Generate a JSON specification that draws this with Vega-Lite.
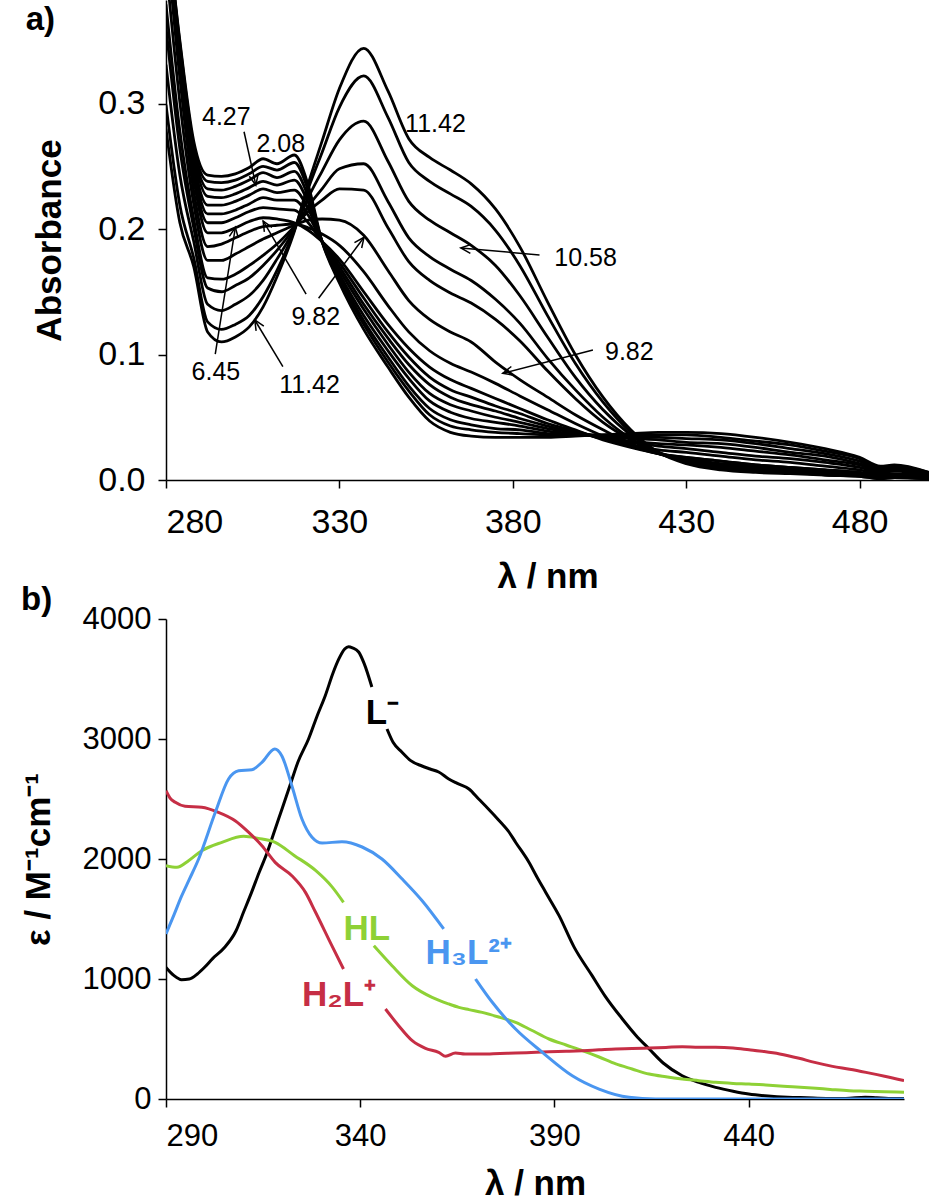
{
"$schema":"https://vega.github.io/schema/vega-lite/v6.json",
"background":"white",
"padding":{"left":21,"top":0,"right":0,"bottom":0},
"bounds":"flush",
"spacing":139,
"config":{"view":{"stroke":null},"font":"Liberation Sans",
"axis":{"domainColor":"black","tickColor":"black","labelColor":"black","titleColor":"black","grid":false,"domainWidth":1.5,"tickWidth":1.5,"tickSize":8,"labelFontSize":34,"titleFontSize":35,"titleFontWeight":"bold","labelFont":"Liberation Sans","titleFont":"Liberation Sans","labelPadding":12,"titlePadding":14}},
"vconcat":[
{"width":763,"height":480,
"title":{"text":"a)","anchor":"start","frame":"bounds","offset":-37,"dx":-7,"fontSize":33,"fontWeight":"bold","font":"Liberation Sans","color":"black"},
"layer":[
{"data":{"values":[
{"k":1,"w":280,"v":0.45},{"k":1,"w":284,"v":0.35},{"k":1,"w":288,"v":0.27},{"k":1,"w":292,"v":0.243},{"k":1,"w":296,"v":0.242},{"k":1,"w":300,"v":0.244},{"k":1,"w":304,"v":0.249},{"k":1,"w":308,"v":0.256},{"k":1,"w":312,"v":0.252},{"k":1,"w":317,"v":0.259},{"k":1,"w":321,"v":0.235},{"k":1,"w":325,"v":0.19},{"k":1,"w":330,"v":0.157},{"k":1,"w":337,"v":0.12},{"k":1,"w":344,"v":0.09},{"k":1,"w":350,"v":0.066},{"k":1,"w":356,"v":0.047},{"k":1,"w":362,"v":0.038},{"k":1,"w":368,"v":0.035},{"k":1,"w":375,"v":0.034},{"k":1,"w":382,"v":0.034},{"k":1,"w":390,"v":0.034},{"k":1,"w":398,"v":0.035},{"k":1,"w":406,"v":0.036},{"k":1,"w":414,"v":0.037},{"k":1,"w":422,"v":0.038},{"k":1,"w":430,"v":0.038},{"k":1,"w":440,"v":0.037},{"k":1,"w":450,"v":0.034},{"k":1,"w":460,"v":0.03},{"k":1,"w":470,"v":0.025},{"k":1,"w":480,"v":0.018},{"k":1,"w":486,"v":0.011},{"k":1,"w":490,"v":0.012},{"k":1,"w":500,"v":0.006},
{"k":2,"w":280,"v":0.45},{"k":2,"w":284,"v":0.348},{"k":2,"w":288,"v":0.266},{"k":2,"w":292,"v":0.238},{"k":2,"w":296,"v":0.237},{"k":2,"w":300,"v":0.239},{"k":2,"w":304,"v":0.244},{"k":2,"w":308,"v":0.25},{"k":2,"w":312,"v":0.247},{"k":2,"w":317,"v":0.253},{"k":2,"w":321,"v":0.231},{"k":2,"w":325,"v":0.19},{"k":2,"w":330,"v":0.159},{"k":2,"w":337,"v":0.124},{"k":2,"w":344,"v":0.094},{"k":2,"w":350,"v":0.071},{"k":2,"w":356,"v":0.052},{"k":2,"w":362,"v":0.043},{"k":2,"w":368,"v":0.04},{"k":2,"w":375,"v":0.038},{"k":2,"w":382,"v":0.037},{"k":2,"w":390,"v":0.036},{"k":2,"w":398,"v":0.036},{"k":2,"w":406,"v":0.036},{"k":2,"w":414,"v":0.036},{"k":2,"w":422,"v":0.036},{"k":2,"w":430,"v":0.036},{"k":2,"w":440,"v":0.034},{"k":2,"w":450,"v":0.031},{"k":2,"w":460,"v":0.028},{"k":2,"w":470,"v":0.023},{"k":2,"w":480,"v":0.017},{"k":2,"w":486,"v":0.01},{"k":2,"w":490,"v":0.011},{"k":2,"w":500,"v":0.006},
{"k":3,"w":280,"v":0.45},{"k":3,"w":284,"v":0.345},{"k":3,"w":288,"v":0.263},{"k":3,"w":292,"v":0.232},{"k":3,"w":296,"v":0.231},{"k":3,"w":300,"v":0.234},{"k":3,"w":304,"v":0.239},{"k":3,"w":308,"v":0.245},{"k":3,"w":312,"v":0.241},{"k":3,"w":317,"v":0.246},{"k":3,"w":321,"v":0.226},{"k":3,"w":325,"v":0.19},{"k":3,"w":330,"v":0.162},{"k":3,"w":337,"v":0.127},{"k":3,"w":344,"v":0.098},{"k":3,"w":350,"v":0.075},{"k":3,"w":356,"v":0.057},{"k":3,"w":362,"v":0.048},{"k":3,"w":368,"v":0.044},{"k":3,"w":375,"v":0.041},{"k":3,"w":382,"v":0.04},{"k":3,"w":390,"v":0.037},{"k":3,"w":398,"v":0.036},{"k":3,"w":406,"v":0.035},{"k":3,"w":414,"v":0.034},{"k":3,"w":422,"v":0.034},{"k":3,"w":430,"v":0.033},{"k":3,"w":440,"v":0.032},{"k":3,"w":450,"v":0.029},{"k":3,"w":460,"v":0.025},{"k":3,"w":470,"v":0.021},{"k":3,"w":480,"v":0.015},{"k":3,"w":486,"v":0.009},{"k":3,"w":490,"v":0.01},{"k":3,"w":500,"v":0.005},
{"k":4,"w":280,"v":0.45},{"k":4,"w":284,"v":0.342},{"k":4,"w":288,"v":0.259},{"k":4,"w":292,"v":0.226},{"k":4,"w":296,"v":0.225},{"k":4,"w":300,"v":0.228},{"k":4,"w":304,"v":0.233},{"k":4,"w":308,"v":0.238},{"k":4,"w":312,"v":0.235},{"k":4,"w":317,"v":0.239},{"k":4,"w":321,"v":0.221},{"k":4,"w":325,"v":0.19},{"k":4,"w":330,"v":0.164},{"k":4,"w":337,"v":0.131},{"k":4,"w":344,"v":0.103},{"k":4,"w":350,"v":0.081},{"k":4,"w":356,"v":0.063},{"k":4,"w":362,"v":0.054},{"k":4,"w":368,"v":0.049},{"k":4,"w":375,"v":0.046},{"k":4,"w":382,"v":0.043},{"k":4,"w":390,"v":0.039},{"k":4,"w":398,"v":0.037},{"k":4,"w":406,"v":0.035},{"k":4,"w":414,"v":0.033},{"k":4,"w":422,"v":0.032},{"k":4,"w":430,"v":0.03},{"k":4,"w":440,"v":0.029},{"k":4,"w":450,"v":0.026},{"k":4,"w":460,"v":0.022},{"k":4,"w":470,"v":0.019},{"k":4,"w":480,"v":0.013},{"k":4,"w":486,"v":0.008},{"k":4,"w":490,"v":0.009},{"k":4,"w":500,"v":0.005},
{"k":5,"w":280,"v":0.45},{"k":5,"w":284,"v":0.34},{"k":5,"w":288,"v":0.254},{"k":5,"w":292,"v":0.219},{"k":5,"w":296,"v":0.219},{"k":5,"w":300,"v":0.222},{"k":5,"w":304,"v":0.227},{"k":5,"w":308,"v":0.232},{"k":5,"w":312,"v":0.229},{"k":5,"w":317,"v":0.231},{"k":5,"w":321,"v":0.216},{"k":5,"w":325,"v":0.19},{"k":5,"w":330,"v":0.167},{"k":5,"w":337,"v":0.136},{"k":5,"w":344,"v":0.108},{"k":5,"w":350,"v":0.086},{"k":5,"w":356,"v":0.069},{"k":5,"w":362,"v":0.06},{"k":5,"w":368,"v":0.055},{"k":5,"w":375,"v":0.05},{"k":5,"w":382,"v":0.046},{"k":5,"w":390,"v":0.041},{"k":5,"w":398,"v":0.038},{"k":5,"w":406,"v":0.034},{"k":5,"w":414,"v":0.031},{"k":5,"w":422,"v":0.029},{"k":5,"w":430,"v":0.028},{"k":5,"w":440,"v":0.026},{"k":5,"w":450,"v":0.023},{"k":5,"w":460,"v":0.02},{"k":5,"w":470,"v":0.016},{"k":5,"w":480,"v":0.012},{"k":5,"w":486,"v":0.007},{"k":5,"w":490,"v":0.008},{"k":5,"w":500,"v":0.004},
{"k":6,"w":280,"v":0.45},{"k":6,"w":284,"v":0.337},{"k":6,"w":288,"v":0.25},{"k":6,"w":292,"v":0.212},{"k":6,"w":296,"v":0.212},{"k":6,"w":300,"v":0.215},{"k":6,"w":304,"v":0.22},{"k":6,"w":308,"v":0.225},{"k":6,"w":312,"v":0.223},{"k":6,"w":317,"v":0.223},{"k":6,"w":321,"v":0.211},{"k":6,"w":325,"v":0.19},{"k":6,"w":330,"v":0.17},{"k":6,"w":337,"v":0.14},{"k":6,"w":344,"v":0.113},{"k":6,"w":350,"v":0.092},{"k":6,"w":356,"v":0.076},{"k":6,"w":362,"v":0.066},{"k":6,"w":368,"v":0.06},{"k":6,"w":375,"v":0.055},{"k":6,"w":382,"v":0.049},{"k":6,"w":390,"v":0.043},{"k":6,"w":398,"v":0.038},{"k":6,"w":406,"v":0.033},{"k":6,"w":414,"v":0.03},{"k":6,"w":422,"v":0.027},{"k":6,"w":430,"v":0.025},{"k":6,"w":440,"v":0.022},{"k":6,"w":450,"v":0.019},{"k":6,"w":460,"v":0.017},{"k":6,"w":470,"v":0.014},{"k":6,"w":480,"v":0.01},{"k":6,"w":486,"v":0.006},{"k":6,"w":490,"v":0.007},{"k":6,"w":500,"v":0.003},
{"k":7,"w":280,"v":0.45},{"k":7,"w":284,"v":0.334},{"k":7,"w":288,"v":0.245},{"k":7,"w":292,"v":0.205},{"k":7,"w":296,"v":0.205},{"k":7,"w":300,"v":0.209},{"k":7,"w":304,"v":0.214},{"k":7,"w":308,"v":0.217},{"k":7,"w":312,"v":0.216},{"k":7,"w":317,"v":0.215},{"k":7,"w":321,"v":0.205},{"k":7,"w":325,"v":0.19},{"k":7,"w":330,"v":0.173},{"k":7,"w":337,"v":0.145},{"k":7,"w":344,"v":0.118},{"k":7,"w":350,"v":0.098},{"k":7,"w":356,"v":0.082},{"k":7,"w":362,"v":0.072},{"k":7,"w":368,"v":0.066},{"k":7,"w":375,"v":0.059},{"k":7,"w":382,"v":0.053},{"k":7,"w":390,"v":0.045},{"k":7,"w":398,"v":0.039},{"k":7,"w":406,"v":0.033},{"k":7,"w":414,"v":0.028},{"k":7,"w":422,"v":0.024},{"k":7,"w":430,"v":0.022},{"k":7,"w":440,"v":0.019},{"k":7,"w":450,"v":0.016},{"k":7,"w":460,"v":0.014},{"k":7,"w":470,"v":0.011},{"k":7,"w":480,"v":0.008},{"k":7,"w":486,"v":0.005},{"k":7,"w":490,"v":0.005},{"k":7,"w":500,"v":0.003},
{"k":8,"w":280,"v":0.45},{"k":8,"w":284,"v":0.33},{"k":8,"w":288,"v":0.24},{"k":8,"w":292,"v":0.197},{"k":8,"w":296,"v":0.197},{"k":8,"w":300,"v":0.201},{"k":8,"w":304,"v":0.206},{"k":8,"w":308,"v":0.209},{"k":8,"w":312,"v":0.208},{"k":8,"w":317,"v":0.205},{"k":8,"w":321,"v":0.199},{"k":8,"w":325,"v":0.19},{"k":8,"w":330,"v":0.176},{"k":8,"w":337,"v":0.15},{"k":8,"w":344,"v":0.124},{"k":8,"w":350,"v":0.105},{"k":8,"w":356,"v":0.09},{"k":8,"w":362,"v":0.08},{"k":8,"w":368,"v":0.073},{"k":8,"w":375,"v":0.065},{"k":8,"w":382,"v":0.057},{"k":8,"w":390,"v":0.048},{"k":8,"w":398,"v":0.04},{"k":8,"w":406,"v":0.032},{"k":8,"w":414,"v":0.026},{"k":8,"w":422,"v":0.021},{"k":8,"w":430,"v":0.018},{"k":8,"w":440,"v":0.015},{"k":8,"w":450,"v":0.012},{"k":8,"w":460,"v":0.01},{"k":8,"w":470,"v":0.008},{"k":8,"w":480,"v":0.006},{"k":8,"w":486,"v":0.004},{"k":8,"w":490,"v":0.004},{"k":8,"w":500,"v":0.002},
{"k":9,"w":280,"v":0.436},{"k":9,"w":284,"v":0.32},{"k":9,"w":288,"v":0.23},{"k":9,"w":292,"v":0.186},{"k":9,"w":296,"v":0.188},{"k":9,"w":300,"v":0.193},{"k":9,"w":304,"v":0.198},{"k":9,"w":308,"v":0.202},{"k":9,"w":312,"v":0.203},{"k":9,"w":317,"v":0.204},{"k":9,"w":321,"v":0.201},{"k":9,"w":325,"v":0.196},{"k":9,"w":330,"v":0.187},{"k":9,"w":337,"v":0.166},{"k":9,"w":344,"v":0.139},{"k":9,"w":350,"v":0.118},{"k":9,"w":356,"v":0.103},{"k":9,"w":362,"v":0.093},{"k":9,"w":368,"v":0.086},{"k":9,"w":375,"v":0.077},{"k":9,"w":382,"v":0.067},{"k":9,"w":390,"v":0.056},{"k":9,"w":398,"v":0.045},{"k":9,"w":406,"v":0.035},{"k":9,"w":414,"v":0.027},{"k":9,"w":422,"v":0.021},{"k":9,"w":430,"v":0.018},{"k":9,"w":440,"v":0.015},{"k":9,"w":450,"v":0.012},{"k":9,"w":460,"v":0.01},{"k":9,"w":470,"v":0.008},{"k":9,"w":480,"v":0.006},{"k":9,"w":486,"v":0.004},{"k":9,"w":490,"v":0.004},{"k":9,"w":500,"v":0.002},
{"k":10,"w":280,"v":0.411},{"k":10,"w":284,"v":0.301},{"k":10,"w":288,"v":0.22},{"k":10,"w":292,"v":0.175},{"k":10,"w":296,"v":0.175},{"k":10,"w":300,"v":0.18},{"k":10,"w":304,"v":0.186},{"k":10,"w":308,"v":0.192},{"k":10,"w":312,"v":0.197},{"k":10,"w":317,"v":0.203},{"k":10,"w":321,"v":0.207},{"k":10,"w":325,"v":0.208},{"k":10,"w":330,"v":0.207},{"k":10,"w":337,"v":0.195},{"k":10,"w":344,"v":0.167},{"k":10,"w":350,"v":0.143},{"k":10,"w":356,"v":0.128},{"k":10,"w":362,"v":0.118},{"k":10,"w":368,"v":0.11},{"k":10,"w":375,"v":0.094},{"k":10,"w":382,"v":0.08},{"k":10,"w":390,"v":0.066},{"k":10,"w":398,"v":0.052},{"k":10,"w":406,"v":0.04},{"k":10,"w":414,"v":0.029},{"k":10,"w":422,"v":0.021},{"k":10,"w":430,"v":0.017},{"k":10,"w":440,"v":0.013},{"k":10,"w":450,"v":0.011},{"k":10,"w":460,"v":0.009},{"k":10,"w":470,"v":0.007},{"k":10,"w":480,"v":0.005},{"k":10,"w":486,"v":0.003},{"k":10,"w":490,"v":0.004},{"k":10,"w":500,"v":0.002},
{"k":11,"w":280,"v":0.379},{"k":11,"w":284,"v":0.278},{"k":11,"w":288,"v":0.208},{"k":11,"w":292,"v":0.161},{"k":11,"w":296,"v":0.16},{"k":11,"w":300,"v":0.164},{"k":11,"w":304,"v":0.171},{"k":11,"w":308,"v":0.179},{"k":11,"w":312,"v":0.188},{"k":11,"w":317,"v":0.202},{"k":11,"w":321,"v":0.214},{"k":11,"w":325,"v":0.223},{"k":11,"w":330,"v":0.232},{"k":11,"w":337,"v":0.231},{"k":11,"w":344,"v":0.201},{"k":11,"w":350,"v":0.174},{"k":11,"w":356,"v":0.159},{"k":11,"w":362,"v":0.149},{"k":11,"w":368,"v":0.141},{"k":11,"w":375,"v":0.128},{"k":11,"w":382,"v":0.111},{"k":11,"w":390,"v":0.087},{"k":11,"w":398,"v":0.065},{"k":11,"w":406,"v":0.046},{"k":11,"w":414,"v":0.032},{"k":11,"w":422,"v":0.021},{"k":11,"w":430,"v":0.016},{"k":11,"w":440,"v":0.012},{"k":11,"w":450,"v":0.01},{"k":11,"w":460,"v":0.008},{"k":11,"w":470,"v":0.006},{"k":11,"w":480,"v":0.005},{"k":11,"w":486,"v":0.003},{"k":11,"w":490,"v":0.003},{"k":11,"w":500,"v":0.002},
{"k":12,"w":280,"v":0.361},{"k":12,"w":284,"v":0.264},{"k":12,"w":288,"v":0.201},{"k":12,"w":292,"v":0.153},{"k":12,"w":296,"v":0.15},{"k":12,"w":300,"v":0.155},{"k":12,"w":304,"v":0.161},{"k":12,"w":308,"v":0.171},{"k":12,"w":312,"v":0.183},{"k":12,"w":317,"v":0.201},{"k":12,"w":321,"v":0.218},{"k":12,"w":325,"v":0.232},{"k":12,"w":330,"v":0.248},{"k":12,"w":337,"v":0.252},{"k":12,"w":344,"v":0.222},{"k":12,"w":350,"v":0.193},{"k":12,"w":356,"v":0.178},{"k":12,"w":362,"v":0.168},{"k":12,"w":368,"v":0.159},{"k":12,"w":375,"v":0.144},{"k":12,"w":382,"v":0.125},{"k":12,"w":390,"v":0.097},{"k":12,"w":398,"v":0.072},{"k":12,"w":406,"v":0.05},{"k":12,"w":414,"v":0.033},{"k":12,"w":422,"v":0.022},{"k":12,"w":430,"v":0.015},{"k":12,"w":440,"v":0.011},{"k":12,"w":450,"v":0.009},{"k":12,"w":460,"v":0.007},{"k":12,"w":470,"v":0.006},{"k":12,"w":480,"v":0.004},{"k":12,"w":486,"v":0.003},{"k":12,"w":490,"v":0.003},{"k":12,"w":500,"v":0.001},
{"k":13,"w":280,"v":0.331},{"k":13,"w":284,"v":0.243},{"k":13,"w":288,"v":0.19},{"k":13,"w":292,"v":0.14},{"k":13,"w":296,"v":0.135},{"k":13,"w":300,"v":0.14},{"k":13,"w":304,"v":0.147},{"k":13,"w":308,"v":0.159},{"k":13,"w":312,"v":0.176},{"k":13,"w":317,"v":0.2},{"k":13,"w":321,"v":0.225},{"k":13,"w":325,"v":0.246},{"k":13,"w":330,"v":0.271},{"k":13,"w":337,"v":0.286},{"k":13,"w":344,"v":0.254},{"k":13,"w":350,"v":0.222},{"k":13,"w":356,"v":0.207},{"k":13,"w":362,"v":0.197},{"k":13,"w":368,"v":0.187},{"k":13,"w":375,"v":0.171},{"k":13,"w":382,"v":0.147},{"k":13,"w":390,"v":0.114},{"k":13,"w":398,"v":0.082},{"k":13,"w":406,"v":0.056},{"k":13,"w":414,"v":0.036},{"k":13,"w":422,"v":0.022},{"k":13,"w":430,"v":0.0145},{"k":13,"w":440,"v":0.01},{"k":13,"w":450,"v":0.008},{"k":13,"w":460,"v":0.0065},{"k":13,"w":470,"v":0.005},{"k":13,"w":480,"v":0.004},{"k":13,"w":486,"v":0.002},{"k":13,"w":490,"v":0.003},{"k":13,"w":500,"v":0.001},
{"k":14,"w":280,"v":0.299},{"k":14,"w":284,"v":0.219},{"k":14,"w":288,"v":0.177},{"k":14,"w":292,"v":0.126},{"k":14,"w":296,"v":0.12},{"k":14,"w":300,"v":0.124},{"k":14,"w":304,"v":0.131},{"k":14,"w":308,"v":0.146},{"k":14,"w":312,"v":0.167},{"k":14,"w":317,"v":0.199},{"k":14,"w":321,"v":0.232},{"k":14,"w":325,"v":0.261},{"k":14,"w":330,"v":0.297},{"k":14,"w":337,"v":0.322},{"k":14,"w":344,"v":0.289},{"k":14,"w":350,"v":0.253},{"k":14,"w":356,"v":0.238},{"k":14,"w":362,"v":0.228},{"k":14,"w":368,"v":0.218},{"k":14,"w":375,"v":0.199},{"k":14,"w":382,"v":0.171},{"k":14,"w":390,"v":0.131},{"k":14,"w":398,"v":0.093},{"k":14,"w":406,"v":0.062},{"k":14,"w":414,"v":0.038},{"k":14,"w":422,"v":0.022},{"k":14,"w":430,"v":0.014},{"k":14,"w":440,"v":0.009},{"k":14,"w":450,"v":0.007},{"k":14,"w":460,"v":0.006},{"k":14,"w":470,"v":0.004},{"k":14,"w":480,"v":0.003},{"k":14,"w":486,"v":0.001},{"k":14,"w":490,"v":0.002},{"k":14,"w":500,"v":0.001},
{"k":15,"w":280,"v":0.28},{"k":15,"w":284,"v":0.205},{"k":15,"w":288,"v":0.17},{"k":15,"w":292,"v":0.118},{"k":15,"w":296,"v":0.11},{"k":15,"w":300,"v":0.114},{"k":15,"w":304,"v":0.122},{"k":15,"w":308,"v":0.138},{"k":15,"w":312,"v":0.162},{"k":15,"w":317,"v":0.198},{"k":15,"w":321,"v":0.236},{"k":15,"w":325,"v":0.27},{"k":15,"w":330,"v":0.312},{"k":15,"w":337,"v":0.344},{"k":15,"w":344,"v":0.31},{"k":15,"w":350,"v":0.272},{"k":15,"w":356,"v":0.257},{"k":15,"w":362,"v":0.247},{"k":15,"w":368,"v":0.236},{"k":15,"w":375,"v":0.216},{"k":15,"w":382,"v":0.186},{"k":15,"w":390,"v":0.142},{"k":15,"w":398,"v":0.1},{"k":15,"w":406,"v":0.066},{"k":15,"w":414,"v":0.04},{"k":15,"w":422,"v":0.022},{"k":15,"w":430,"v":0.013},{"k":15,"w":440,"v":0.008},{"k":15,"w":450,"v":0.006},{"k":15,"w":460,"v":0.005},{"k":15,"w":470,"v":0.004},{"k":15,"w":480,"v":0.003},{"k":15,"w":486,"v":0.001},{"k":15,"w":490,"v":0.002},{"k":15,"w":500,"v":0.001}
]},
"mark":{"type":"line","clip":true,"interpolate":"monotone","strokeWidth":2.8,"color":"black"},
"encoding":{
"x":{"field":"w","type":"quantitative","title":"λ / nm","scale":{"domain":[280,500],"nice":false,"zero":false},"axis":{"values":[280,330,380,430,480],"labelPadding":17,"titlePadding":20}},
"y":{"field":"v","type":"quantitative","title":"Absorbance","scale":{"domain":[0,0.3825],"nice":false},"axis":{"values":[0,0.1,0.2,0.3],"format":".1f","labelPadding":13,"titlePadding":30}},
"detail":{"field":"k","type":"nominal"}}},
{"data":{"values":[
{"w":302.5,"v":0.2775,"w2":305.9,"v2":0.235,"ang":167.6},
{"w":294.2,"v":0.1004,"w2":300.0,"v2":0.2014,"ang":9.0},
{"w":313.7,"v":0.0903,"w2":305.6,"v2":0.1275,"ang":328.8},
{"w":320.4,"v":0.1482,"w2":308.0,"v2":0.2064,"ang":329.3},
{"w":324.0,"v":0.1448,"w2":337.1,"v2":0.1934,"ang":36.6},
{"w":387.7,"v":0.1793,"w2":365.0,"v2":0.1849,"ang":275},
{"w":403.1,"v":0.1036,"w2":377.1,"v2":0.085,"ang":255.5}
]},
"layer":[
{"mark":{"type":"rule","color":"black","strokeWidth":1.5},
"encoding":{"x":{"field":"w","type":"quantitative","title":"λ / nm"},"y":{"field":"v","type":"quantitative","title":"Absorbance"},"x2":{"field":"w2"},"y2":{"field":"v2"}}},
{"mark":{"type":"point","shape":"M-0.45,1L0,0L0.45,1","filled":false,"stroke":"black","strokeWidth":1.5,"size":400,"opacity":1},
"encoding":{"x":{"field":"w2","type":"quantitative","title":"λ / nm"},"y":{"field":"v2","type":"quantitative","title":"Absorbance"},"angle":{"field":"ang","type":"quantitative","scale":null}}}
]},
{"data":{"values":[
{"w":297.4,"v":0.283,"t":"4.27"},
{"w":313.1,"v":0.2616,"t":"2.08"},
{"w":357.7,"v":0.2775,"t":"11.42"},
{"w":294.4,"v":0.0797,"t":"6.45"},
{"w":321.4,"v":0.0691,"t":"11.42"},
{"w":323.2,"v":0.1235,"t":"9.82"},
{"w":401.0,"v":0.1705,"t":"10.58"},
{"w":413.6,"v":0.0956,"t":"9.82"}
]},
"mark":{"type":"text","fontSize":25,"align":"center","baseline":"alphabetic","font":"Liberation Sans","color":"black"},
"encoding":{"x":{"field":"w","type":"quantitative","title":"λ / nm"},"y":{"field":"v","type":"quantitative","title":"Absorbance"},"text":{"field":"t"}}}
]},
{"width":738,"height":480,
"title":{"text":"b)","anchor":"start","frame":"bounds","offset":-14,"fontSize":33,"fontWeight":"bold","font":"Liberation Sans","color":"black"},
"layer":[
{"data":{"values":[
{"s":"L","g":"L1","w":290,"e":1097},{"s":"L","g":"L1","w":292,"e":1030},{"s":"L","g":"L1","w":294,"e":994},{"s":"L","g":"L1","w":296,"e":1000},{"s":"L","g":"L1","w":298,"e":1040},{"s":"L","g":"L1","w":300,"e":1100},{"s":"L","g":"L1","w":302,"e":1170},{"s":"L","g":"L1","w":305,"e":1260},{"s":"L","g":"L1","w":308,"e":1400},{"s":"L","g":"L1","w":310,"e":1560},{"s":"L","g":"L1","w":312,"e":1720},{"s":"L","g":"L1","w":314,"e":1890},{"s":"L","g":"L1","w":316,"e":2050},{"s":"L","g":"L1","w":318,"e":2240},{"s":"L","g":"L1","w":320,"e":2430},{"s":"L","g":"L1","w":322,"e":2620},{"s":"L","g":"L1","w":324,"e":2810},{"s":"L","g":"L1","w":326.7,"e":3000},{"s":"L","g":"L1","w":329,"e":3200},{"s":"L","g":"L1","w":331,"e":3361},{"s":"L","g":"L1","w":333,"e":3550},{"s":"L","g":"L1","w":334.5,"e":3667},{"s":"L","g":"L1","w":336,"e":3750},{"s":"L","g":"L1","w":337,"e":3769},{"s":"L","g":"L1","w":338,"e":3760},{"s":"L","g":"L1","w":339.6,"e":3725},{"s":"L","g":"L1","w":341,"e":3630},{"s":"L","g":"L1","w":343,"e":3433},
{"s":"L","g":"L2","w":346.9,"e":3083},{"s":"L","g":"L2","w":348.5,"e":2970},{"s":"L","g":"L2","w":350.7,"e":2892},{"s":"L","g":"L2","w":353,"e":2820},{"s":"L","g":"L2","w":355.9,"e":2775},{"s":"L","g":"L2","w":358,"e":2750},{"s":"L","g":"L2","w":360.2,"e":2725},{"s":"L","g":"L2","w":362.8,"e":2667},{"s":"L","g":"L2","w":365,"e":2630},{"s":"L","g":"L2","w":368,"e":2583},{"s":"L","g":"L2","w":370.5,"e":2500},{"s":"L","g":"L2","w":373,"e":2417},{"s":"L","g":"L2","w":375.5,"e":2330},{"s":"L","g":"L2","w":378.3,"e":2225},{"s":"L","g":"L2","w":380,"e":2140},{"s":"L","g":"L2","w":383.4,"e":1975},{"s":"L","g":"L2","w":385.5,"e":1850},{"s":"L","g":"L2","w":387.7,"e":1725},{"s":"L","g":"L2","w":391.2,"e":1528},{"s":"L","g":"L2","w":395,"e":1270},{"s":"L","g":"L2","w":399.7,"e":1028},{"s":"L","g":"L2","w":403,"e":860},{"s":"L","g":"L2","w":407.5,"e":667},{"s":"L","g":"L2","w":411,"e":530},{"s":"L","g":"L2","w":414.4,"e":417},{"s":"L","g":"L2","w":418,"e":300},{"s":"L","g":"L2","w":422.9,"e":194},{"s":"L","g":"L2","w":427,"e":140},{"s":"L","g":"L2","w":431.5,"e":97},{"s":"L","g":"L2","w":436,"e":65},{"s":"L","g":"L2","w":440,"e":42},{"s":"L","g":"L2","w":445,"e":25},{"s":"L","g":"L2","w":450,"e":15},{"s":"L","g":"L2","w":455,"e":10},{"s":"L","g":"L2","w":460,"e":5},{"s":"L","g":"L2","w":465,"e":5},{"s":"L","g":"L2","w":470,"e":15},{"s":"L","g":"L2","w":473,"e":10},{"s":"L","g":"L2","w":476,"e":5},{"s":"L","g":"L2","w":480,"e":5},
{"s":"HL","g":"G1","w":290,"e":1944},{"s":"HL","g":"G1","w":292.8,"e":1931},{"s":"HL","g":"G1","w":295.8,"e":1986},{"s":"HL","g":"G1","w":299.2,"e":2069},{"s":"HL","g":"G1","w":304.4,"e":2139},{"s":"HL","g":"G1","w":310,"e":2189},{"s":"HL","g":"G1","w":313.8,"e":2172},{"s":"HL","g":"G1","w":318.1,"e":2139},{"s":"HL","g":"G1","w":323,"e":2030},{"s":"HL","g":"G1","w":328.5,"e":1905},{"s":"HL","g":"G1","w":332.7,"e":1770},{"s":"HL","g":"G1","w":335.7,"e":1639},
{"s":"HL","g":"G2","w":343.5,"e":1278},{"s":"HL","g":"G2","w":348.2,"e":1111},{"s":"HL","g":"G2","w":353.4,"e":944},{"s":"HL","g":"G2","w":358.5,"e":847},{"s":"HL","g":"G2","w":362.8,"e":792},{"s":"HL","g":"G2","w":365.4,"e":764},{"s":"HL","g":"G2","w":368,"e":745},{"s":"HL","g":"G2","w":371.4,"e":722},{"s":"HL","g":"G2","w":376,"e":680},{"s":"HL","g":"G2","w":380,"e":639},{"s":"HL","g":"G2","w":384,"e":575},{"s":"HL","g":"G2","w":388.6,"e":500},{"s":"HL","g":"G2","w":393,"e":450},{"s":"HL","g":"G2","w":397.2,"e":403},{"s":"HL","g":"G2","w":401.5,"e":350},{"s":"HL","g":"G2","w":405.8,"e":292},{"s":"HL","g":"G2","w":410,"e":250},{"s":"HL","g":"G2","w":414.4,"e":208},{"s":"HL","g":"G2","w":418.7,"e":185},{"s":"HL","g":"G2","w":422.9,"e":167},{"s":"HL","g":"G2","w":427.2,"e":153},{"s":"HL","g":"G2","w":431.5,"e":139},{"s":"HL","g":"G2","w":436,"e":130},{"s":"HL","g":"G2","w":440.1,"e":125},{"s":"HL","g":"G2","w":444.4,"e":117},{"s":"HL","g":"G2","w":450,"e":105},{"s":"HL","g":"G2","w":457.3,"e":89},{"s":"HL","g":"G2","w":461,"e":80},{"s":"HL","g":"G2","w":465.9,"e":69},{"s":"HL","g":"G2","w":470,"e":65},{"s":"HL","g":"G2","w":475,"e":60},{"s":"HL","g":"G2","w":480,"e":56},
{"s":"H2L","g":"R1","w":290,"e":2569},{"s":"H2L","g":"R1","w":291,"e":2510},{"s":"H2L","g":"R1","w":292.4,"e":2472},{"s":"H2L","g":"R1","w":294.9,"e":2439},{"s":"H2L","g":"R1","w":299.2,"e":2431},{"s":"H2L","g":"R1","w":303.5,"e":2389},{"s":"H2L","g":"R1","w":307.8,"e":2319},{"s":"H2L","g":"R1","w":311.3,"e":2222},{"s":"H2L","g":"R1","w":314.7,"e":2111},{"s":"H2L","g":"R1","w":318.1,"e":1972},{"s":"H2L","g":"R1","w":322.4,"e":1861},{"s":"H2L","g":"R1","w":325.9,"e":1722},{"s":"H2L","g":"R1","w":328.5,"e":1556},{"s":"H2L","g":"R1","w":332.7,"e":1278},{"s":"H2L","g":"R1","w":335.7,"e":1083},
{"s":"H2L","g":"R2","w":346.5,"e":750},{"s":"H2L","g":"R2","w":349.9,"e":611},{"s":"H2L","g":"R2","w":353.4,"e":486},{"s":"H2L","g":"R2","w":356.8,"e":422},{"s":"H2L","g":"R2","w":360.2,"e":389},{"s":"H2L","g":"R2","w":362,"e":356},{"s":"H2L","g":"R2","w":364.5,"e":383},{"s":"H2L","g":"R2","w":367,"e":375},{"s":"H2L","g":"R2","w":371.4,"e":375},{"s":"H2L","g":"R2","w":376,"e":380},{"s":"H2L","g":"R2","w":380,"e":383},{"s":"H2L","g":"R2","w":384,"e":388},{"s":"H2L","g":"R2","w":388.6,"e":394},{"s":"H2L","g":"R2","w":393,"e":398},{"s":"H2L","g":"R2","w":397.2,"e":403},{"s":"H2L","g":"R2","w":401.5,"e":410},{"s":"H2L","g":"R2","w":405.8,"e":417},{"s":"H2L","g":"R2","w":410,"e":420},{"s":"H2L","g":"R2","w":414.4,"e":425},{"s":"H2L","g":"R2","w":418.7,"e":430},{"s":"H2L","g":"R2","w":422.9,"e":436},{"s":"H2L","g":"R2","w":427.2,"e":431},{"s":"H2L","g":"R2","w":431.5,"e":431},{"s":"H2L","g":"R2","w":436,"e":425},{"s":"H2L","g":"R2","w":440.1,"e":410},{"s":"H2L","g":"R2","w":444,"e":395},{"s":"H2L","g":"R2","w":448,"e":375},{"s":"H2L","g":"R2","w":453,"e":339},{"s":"H2L","g":"R2","w":457,"e":305},{"s":"H2L","g":"R2","w":461.6,"e":272},{"s":"H2L","g":"R2","w":466,"e":248},{"s":"H2L","g":"R2","w":470.2,"e":222},{"s":"H2L","g":"R2","w":475,"e":190},{"s":"H2L","g":"R2","w":480,"e":153},
{"s":"H3L","g":"B1","w":290,"e":1375},{"s":"H3L","g":"B1","w":292,"e":1530},{"s":"H3L","g":"B1","w":294,"e":1690},{"s":"H3L","g":"B1","w":296,"e":1830},{"s":"H3L","g":"B1","w":298.4,"e":2000},{"s":"H3L","g":"B1","w":302.7,"e":2389},{"s":"H3L","g":"B1","w":306.1,"e":2667},{"s":"H3L","g":"B1","w":308.7,"e":2736},{"s":"H3L","g":"B1","w":312.1,"e":2744},{"s":"H3L","g":"B1","w":314.7,"e":2806},{"s":"H3L","g":"B1","w":318,"e":2917},{"s":"H3L","g":"B1","w":319.8,"e":2861},{"s":"H3L","g":"B1","w":322.4,"e":2611},{"s":"H3L","g":"B1","w":325,"e":2333},{"s":"H3L","g":"B1","w":327.6,"e":2181},{"s":"H3L","g":"B1","w":330.2,"e":2133},{"s":"H3L","g":"B1","w":335.3,"e":2144},{"s":"H3L","g":"B1","w":340.5,"e":2100},{"s":"H3L","g":"B1","w":345.6,"e":2000},{"s":"H3L","g":"B1","w":350.8,"e":1833},{"s":"H3L","g":"B1","w":356,"e":1650},{"s":"H3L","g":"B1","w":361.5,"e":1417},
{"s":"H3L","g":"B2","w":369.7,"e":1000},{"s":"H3L","g":"B2","w":374,"e":806},{"s":"H3L","g":"B2","w":380,"e":583},{"s":"H3L","g":"B2","w":386.9,"e":389},{"s":"H3L","g":"B2","w":394.6,"e":194},{"s":"H3L","g":"B2","w":401.5,"e":83},{"s":"H3L","g":"B2","w":409.2,"e":14},{"s":"H3L","g":"B2","w":416,"e":0},{"s":"H3L","g":"B2","w":430,"e":0},{"s":"H3L","g":"B2","w":450,"e":0},{"s":"H3L","g":"B2","w":480,"e":0}
]},
"mark":{"type":"line","clip":true,"interpolate":"monotone","strokeWidth":3},
"encoding":{
"x":{"field":"w","type":"quantitative","title":"λ / nm","scale":{"domain":[290,480],"nice":false,"zero":false},"axis":{"values":[290,340,390,440],"labelFontSize":31,"labelPadding":14,"titlePadding":15}},
"y":{"field":"e","type":"quantitative","title":"ε / M⁻¹cm⁻¹","scale":{"domain":[0,4000],"nice":false},"axis":{"values":[0,1000,2000,3000,4000],"format":"d","labelFontSize":31,"labelPadding":7,"titleFontSize":35,"titlePadding":26}},
"color":{"field":"s","type":"nominal","legend":null,"scale":{"domain":["L","HL","H2L","H3L"],"range":["#000000","#8ed136","#c62e45","#4a96f0"]}},
"detail":{"field":"g","type":"nominal"}}},
{"data":{"values":[
{"s":"L","w":341.4,"e":3125,"t":"L⁻"},
{"s":"HL","w":335.7,"e":1325,"t":"HL"},
{"s":"H2L","w":325,"e":778,"t":"H₂L⁺"},
{"s":"H3L","w":356.8,"e":1125,"t":"H₃L²⁺"}
]},
"mark":{"type":"text","fontSize":35,"fontWeight":"bold","font":"Liberation Sans","align":"left","baseline":"alphabetic"},
"encoding":{
"x":{"field":"w","type":"quantitative","title":"λ / nm"},
"y":{"field":"e","type":"quantitative","title":"ε / M⁻¹cm⁻¹"},
"text":{"field":"t"},
"color":{"field":"s","type":"nominal","legend":null,"scale":{"domain":["L","HL","H2L","H3L"],"range":["#000000","#8ed136","#c62e45","#4a96f0"]}}}}
]}
]}
